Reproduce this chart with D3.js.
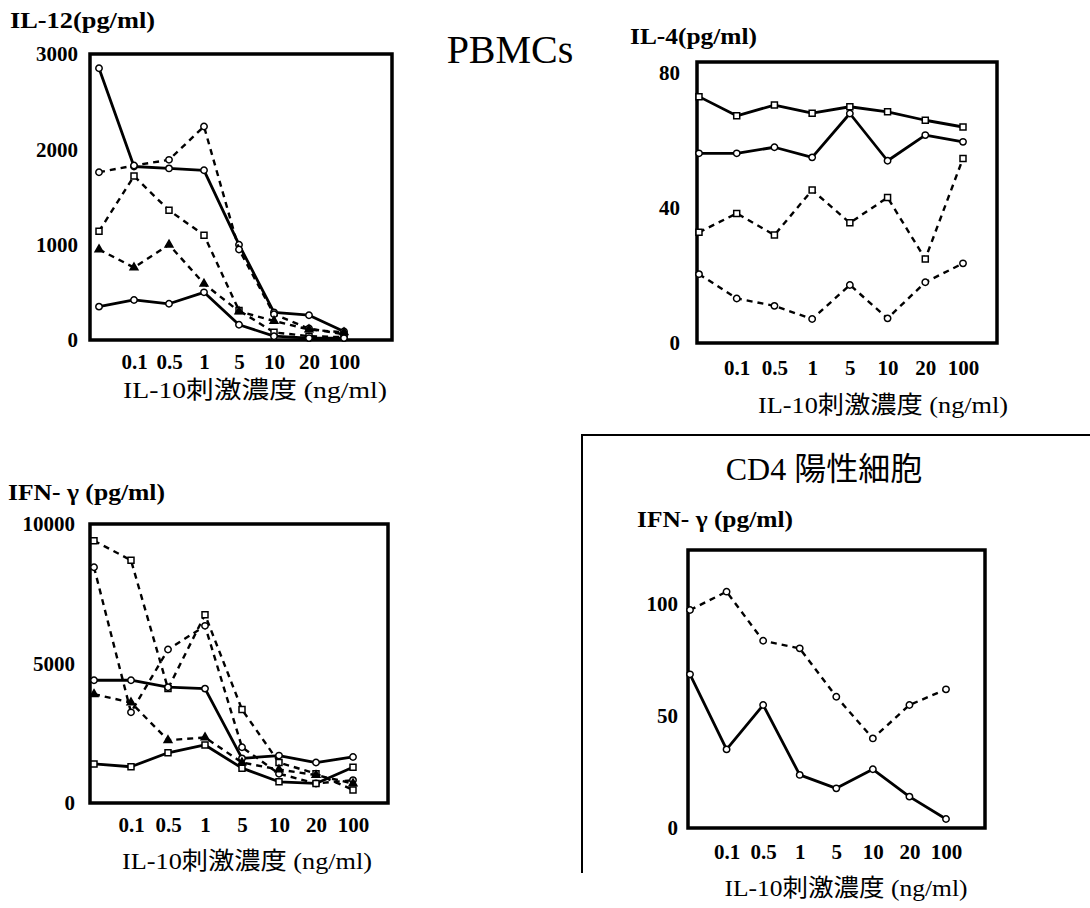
<!DOCTYPE html>
<html><head><meta charset="utf-8">
<script src="https://cdn.jsdelivr.net/npm/d3@7"></script>
<style>body{margin:0;background:#fff;} svg{display:block}</style>
</head><body><svg id="c" width="1090" height="908"></svg>
<script>
// ---------- data ----------
const categories = ["0","0.1","0.5","1","5","10","20","100"];
const tickLabels = ["","0.1","0.5","1","5","10","20","100"];

// IL-12 (PBMCs)
const il12Ticks = [0, 1000, 2000, 3000];
const il12_a = [2850, 1820, 1800, 1780, 1000, 290, 260, 90];
const il12_b = [1760, 1830, 1890, 2240, 950, 270, 120, 60];
const il12_c = [1140, 1720, 1360, 1100, 310, 80, 40, 30];
const il12_d = [950, 760, 1000, 590, 300, 200, 110, 80];
const il12_e = [350, 420, 380, 500, 160, 40, 20, 20];

// IL-4 (PBMCs)
const il4Ticks = [0, 40, 80];
const il4_a = [73, 67.3, 70.5, 68.1, 70, 68.5, 66, 64];
const il4_b = [56.2, 56.2, 58, 55, 68, 54, 61.6, 59.6];
const il4_c = [32.8, 38.4, 32, 45.3, 35.6, 43.1, 24.9, 54.7];
const il4_d = [20.4, 13.2, 11, 7.1, 17.2, 7.3, 18, 23.6];

// IFN-gamma (PBMCs)
const ifnTicks = [0, 5000, 10000];
const ifn_a = [9400, 8700, 4100, 6750, 3350, 1450, 1050, 470];
const ifn_b = [8450, 3250, 5500, 6350, 2000, 1050, 700, 820];
const ifn_c = [4400, 4400, 4150, 4100, 1600, 1700, 1450, 1650];
const ifn_d = [3900, 3600, 2250, 2350, 1450, 1200, 1000, 700];
const ifn_e = [1400, 1300, 1800, 2080, 1250, 760, 700, 1280];

// IFN-gamma (CD4+ cells)
const cd4Ticks = [0, 50, 100];
const cd4_a = [97.3, 105.5, 83.6, 80.2, 58.6, 40, 54.9, 61.9];
const cd4_b = [68.6, 35.1, 54.9, 23.7, 17.7, 26.2, 14, 4];

// ---------- drawing ----------
const svg = d3.select("#c");
const SERIF = "'Liberation Serif','Times New Roman','Noto Sans CJK JP',serif";
const XTITLE = "IL-10刺激濃度 (ng/ml)";

function panel(cfg) {
  const g = svg.append("g");
  const x = d3.scalePoint().domain(categories).range(cfg.xr);
  const y = d3.scaleLinear().domain(cfg.yd).range(cfg.yr);

  // frame
  g.append("rect")
    .attr("x", cfg.frame[0]).attr("y", cfg.frame[1])
    .attr("width", cfg.frame[2] - cfg.frame[0]).attr("height", cfg.frame[3] - cfg.frame[1])
    .attr("fill", "none").attr("stroke", "#000").attr("stroke-width", 3.5);

  // y labels
  const ya = g.append("g").attr("transform", `translate(${cfg.yLabelX},0)`)
    .call(d3.axisLeft(y).tickValues(cfg.ticks).tickSize(0).tickPadding(0).tickFormat(d3.format("d")));
  ya.select(".domain").remove();
  ya.selectAll("text").attr("font-family", SERIF).attr("font-weight", "bold")
    .attr("font-size", 21).attr("fill", "#000");

  // x labels
  const xa = g.append("g").attr("transform", `translate(0,${cfg.xLabelY - 8})`)
    .call(d3.axisBottom(x).tickSize(0).tickPadding(0)
      .tickFormat((d) => tickLabels[categories.indexOf(d)]));
  xa.select(".domain").remove();
  xa.selectAll("text").attr("font-family", SERIF).attr("font-weight", "bold")
    .attr("font-size", 21).attr("fill", "#000");

  // series
  const line = d3.line().x((d, i) => x(categories[i])).y(d => y(d));
  cfg.series.forEach(s => {
    g.append("path").datum(s.values).attr("d", line)
      .attr("fill", "none").attr("stroke", "#000")
      .attr("stroke-width", s.dashed ? 2.4 : 2.8)
      .attr("stroke-dasharray", s.dashed ? "6,5" : null)
      .attr("stroke-linejoin", "round");
    const sym = s.marker === "square" ? d3.symbolSquare : s.marker === "triangle" ? d3.symbolTriangle : d3.symbolCircle;
    const size = s.marker === "square" ? 36 : s.marker === "triangle" ? 26 : 32;
    g.selectAll(null).data(s.values).enter().append("path")
      .attr("d", d3.symbol().type(sym).size(size))
      .attr("transform", (d, i) => `translate(${x(categories[i])},${y(d)})`)
      .attr("fill", s.marker === "triangle" ? "#000" : "#fff")
      .attr("stroke", "#000").attr("stroke-width", 1.5);
  });

  // titles
  g.append("text").attr("x", cfg.yTitle[0]).attr("y", cfg.yTitle[1])
    .attr("font-family", SERIF).attr("font-weight", "bold").attr("font-size", 23)
    .attr("textLength", cfg.yTitle[2]).attr("lengthAdjust", "spacingAndGlyphs")
    .text(cfg.yTitleText);
  g.append("text").attr("x", cfg.xTitle[0]).attr("y", cfg.xTitle[1])
    .attr("text-anchor", "middle").attr("dominant-baseline", "middle")
    .attr("font-family", SERIF).attr("font-size", 24)
    .attr("textLength", cfg.xTitle[2]).attr("lengthAdjust", "spacingAndGlyphs")
    .text(XTITLE);
}

panel({
  frame: [90, 54, 392, 340], xr: [99, 344], yd: [0, 3000], yr: [340, 54],
  ticks: il12Ticks, yLabelX: 78, xLabelY: 362,
  yTitle: [10, 28, 145], yTitleText: "IL-12(pg/ml)", xTitle: [255, 392, 264],
  series: [
    {values: il12_a, dashed: false, marker: "circle"},
    {values: il12_b, dashed: true, marker: "circle"},
    {values: il12_c, dashed: true, marker: "square"},
    {values: il12_d, dashed: true, marker: "triangle"},
    {values: il12_e, dashed: false, marker: "circle"}
  ]
});

panel({
  frame: [697, 62, 997, 343], xr: [699, 963], yd: [0, 80], yr: [343, 73],
  ticks: il4Ticks, yLabelX: 680, xLabelY: 368,
  yTitle: [630, 44, 127], yTitleText: "IL-4(pg/ml)", xTitle: [883, 407, 250],
  series: [
    {values: il4_a, dashed: false, marker: "square"},
    {values: il4_b, dashed: false, marker: "circle"},
    {values: il4_c, dashed: true, marker: "square"},
    {values: il4_d, dashed: true, marker: "circle"}
  ]
});

panel({
  frame: [90, 524, 388, 803], xr: [94, 353], yd: [0, 10000], yr: [803, 524],
  ticks: ifnTicks, yLabelX: 75, xLabelY: 825,
  yTitle: [8, 500, 157], yTitleText: "IFN- γ (pg/ml)", xTitle: [247, 863, 250],
  series: [
    {values: ifn_a, dashed: true, marker: "square"},
    {values: ifn_b, dashed: true, marker: "circle"},
    {values: ifn_c, dashed: false, marker: "circle"},
    {values: ifn_d, dashed: true, marker: "triangle"},
    {values: ifn_e, dashed: false, marker: "square"}
  ]
});

panel({
  frame: [688, 550, 985, 828], xr: [690, 946], yd: [0, 100], yr: [828, 604],
  ticks: cd4Ticks, yLabelX: 678, xLabelY: 852,
  yTitle: [637, 527, 156], yTitleText: "IFN- γ (pg/ml)", xTitle: [846, 890, 243],
  series: [
    {values: cd4_a, dashed: true, marker: "circle"},
    {values: cd4_b, dashed: false, marker: "circle"}
  ]
});

// group headings and CD4 box
svg.append("text").attr("x", 510).attr("y", 63).attr("text-anchor", "middle")
  .attr("font-family", SERIF).attr("font-size", 40).text("PBMCs");
svg.append("path").attr("d", "M582,873V435H1090")
  .attr("fill", "none").attr("stroke", "#000").attr("stroke-width", 2);
svg.append("text").attr("x", 824).attr("y", 480).attr("text-anchor", "middle")
  .attr("font-family", "'Liberation Serif','Noto Sans CJK JP',serif").attr("font-size", 32)
  .text("CD4 陽性細胞");
</script></body></html>
